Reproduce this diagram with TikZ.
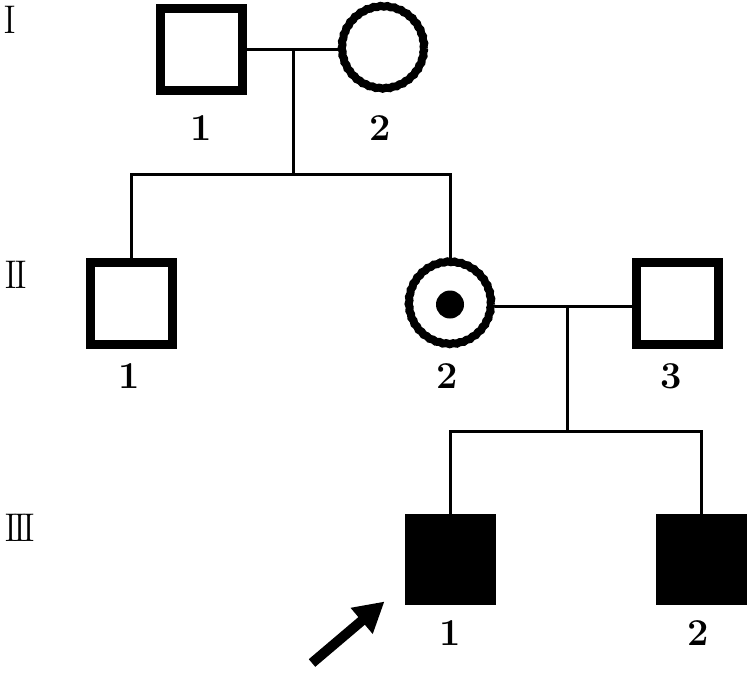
\documentclass[tikz,border=0pt]{standalone}
\usepackage{fontspec}
\usepackage{tikz}
\usetikzlibrary{positioning, arrows.meta, calc, decorations.pathmorphing}

\begin{document}
\begin{tikzpicture}[
        x=1pt, y=-1pt,
        % Styles for individuals
        male/.style={
            rectangle, draw=black, line width=9pt, fill=white,
            minimum size=82pt, inner sep=0pt
        },
        female/.style={
            circle, draw=black, line width=8pt, fill=white,
            minimum size=82pt, inner sep=0pt,
            decorate, decoration={snake, segment length=7pt, amplitude=0.45pt}
        },
        affected/.style={
            male, fill=black
        },
        carrierdot/.style={
            circle, fill=black, minimum size=28pt, inner sep=0pt
        },
        % Labels
        idlabel/.style={
            font=\fontsize{38}{38}\selectfont\bfseries
        },
        genlabel/.style={
            font=\fontsize{40}{40}\selectfont, anchor=base west, inner sep=0pt
        },
        % Connecting lines
        conn/.style={
            draw=black, line width=3pt
        },
        probandarrow/.style={
            draw=black, line width=10pt,
            -{Triangle[length=30pt, width=32pt]}
        }
    ]
    \useasboundingbox (0,0) rectangle (749,672);

    % 1. GENERATION LABELS
    \node[genlabel] (genI)   at (3,33)  {I};
    \node[genlabel] (genII)  at (4,288) {I\kern-2.5pt I};
    \node[genlabel] (genIII) at (4,541) {I\kern-4pt I\kern-4pt I};

    % 2. GENERATION I
    \node[male]   (I1) at (201.5,49) {};
    \node[female] (I2) at (383,49)   {};
    \node[idlabel] (I1_no) at (201,128) {1};
    \node[idlabel] (I2_no) at (380,128) {2};

    \coordinate (I_mate) at (293,50);
    \coordinate (I_sib)  at (293,174);
    \draw[conn] (I1.east) -- (I2.west);
    \draw[conn] (I_mate) -- (I_sib);

    % 3. GENERATION II
    \node[male]   (II1) at (131.5,303.5) {};
    \node[female] (II2) at (450,304.5)   {};
    \node[carrierdot] (II2_dot) at (II2.center) {};
    \node[male]   (II3) at (677.5,303.5) {};
    \node[idlabel] (II1_no) at (129,376) {1};
    \node[idlabel] (II2_no) at (447,376) {2};
    \node[idlabel] (II3_no) at (671,376) {3};

    \draw[conn] (II1.north) |- (I_sib) -| (II2.north);

    \coordinate (II_mate) at (567,306);
    \coordinate (II_sib)  at (567,431);
    \draw[conn] (II2.east |- II_mate) -- (II3.west |- II_mate);
    \draw[conn] (II_mate) -- (II_sib);

    % 4. GENERATION III
    \node[affected] (III1) at (450,559)   {};
    \node[affected] (III2) at (701.5,559) {};
    \node[idlabel] (III1_no) at (450,633) {1};
    \node[idlabel] (III2_no) at (698,633) {2};

    \draw[conn] (III1.north) |- (II_sib) -| (III2.north);

    % Proband
    \coordinate (proband) at (312,663);
    \draw[probandarrow] (proband) -- ([shift={(-20,-3)}]III1.south west);

\end{tikzpicture}
\end{document}
